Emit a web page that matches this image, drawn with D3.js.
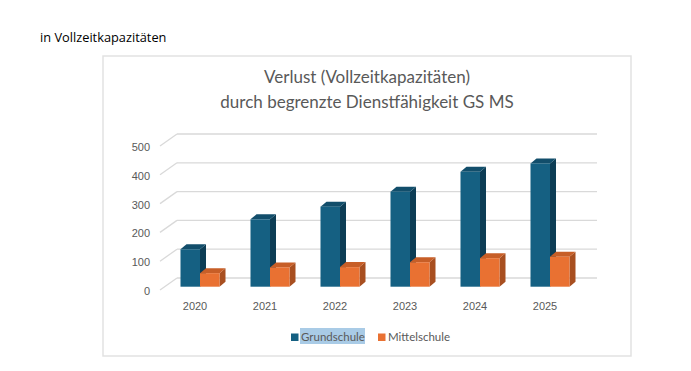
<!DOCTYPE html>
<html><head><meta charset="utf-8">
<script src="https://cdn.jsdelivr.net/npm/d3@7"></script>
<style>
html,body{margin:0;padding:0;background:#fff;}
svg{display:block;}
</style></head>
<body>
<svg id="c" width="691" height="371"></svg>
<script>
const years = ["2020","2021","2022","2023","2024","2025"];
const seriesNames = ["Grundschule","Mittelschule"];
const grundschule = [130, 234, 278, 330, 399, 428];
const mittelschule = [47, 67, 68, 85, 99, 104];
const yTicks = [0,100,200,300,400,500];
const titleLines = ["Verlust (Vollzeitkapazitäten)","durch begrenzte Dienstfähigkeit GS MS"];
const headerText = "in Vollzeitkapazitäten";

const colors = {
  "Grundschule": {front:"#156082", side:"#0d3d55", top:"#124e6b"},
  "Mittelschule": {front:"#e97132", side:"#a84f20", top:"#c75e27"}
};

const svg = d3.select("#c");

// header
svg.append("text").attr("x",40).attr("y",42).text(headerText)
  .attr("font-family","'Open Sans', Lato, sans-serif").attr("font-size",12.8)
  .attr("font-weight",500).attr("fill","#000");

// frame
svg.append("rect").attr("x",103).attr("y",56).attr("width",528).attr("height",300)
  .attr("fill","#fff").attr("stroke","#e2e2e2").attr("stroke-width",1.5);

// title
const title = svg.append("text").attr("text-anchor","middle")
  .attr("font-family","Lato, 'Open Sans', sans-serif").attr("font-size",17).attr("fill","#595959");
titleLines.forEach((t,i)=>title.append("tspan").attr("x",367).attr("y",83+i*25).text(t));

// geometry
const wallDx = 17, wallDy = -12;       // depth of floor/wall
const barOffX = 5, barOffY = -3.3;      // bar plane relative to front plane
const barDx = 6, barDy = -5;            // bar thickness
const x = d3.scaleBand().domain(years).range([160,580]);
const y = d3.scaleLinear().domain([0,500]).range([290,146]);
const xs = d3.scaleBand().domain(seriesNames).range([-19.5,19.5]);

// back wall gridlines + diagonal side lines
const grid = svg.append("g").attr("stroke","#d9d9d9").attr("stroke-width",1.3).attr("fill","none");
yTicks.forEach(v=>{
  grid.append("line").attr("x1",160+wallDx).attr("x2",580+wallDx)
    .attr("y1",y(v)+wallDy).attr("y2",y(v)+wallDy);
  grid.append("line").attr("x1",160).attr("x2",160+wallDx)
    .attr("y1",y(v)).attr("y2",y(v)+wallDy);
});

// y axis labels
const yAxis = d3.axisLeft(y).tickValues(yTicks).tickSize(0).tickPadding(0);
const ya = svg.append("g").attr("transform","translate(150,1)").call(yAxis);
ya.select(".domain").remove();
ya.selectAll("text").attr("font-family","'Liberation Sans', Arial, sans-serif")
  .attr("font-size",11).attr("fill","#595959");

// x axis labels
const xAxis = d3.axisBottom(x).tickSize(0).tickPadding(0);
const xa = svg.append("g").attr("transform","translate(0,302)").call(xAxis);
xa.select(".domain").remove();
xa.selectAll("text").attr("font-family","'Liberation Sans', Arial, sans-serif")
  .attr("font-size",11).attr("fill","#595959");

// bars
const data = [];
years.forEach((yr,i)=>{
  data.push({year:yr, s:"Grundschule", v:grundschule[i]});
  data.push({year:yr, s:"Mittelschule", v:mittelschule[i]});
});
const bars = svg.append("g");
data.forEach(d=>{
  const cx = x(d.year) + x.bandwidth()/2 + barOffX;
  const x0 = cx + xs(d.s), x1 = x0 + xs.bandwidth();
  const yb = y(0) + barOffY, yt = y(d.v) + barOffY;
  const c = colors[d.s];
  const g = bars.append("g");
  g.append("path").attr("d",`M${x1},${yt}L${x1+barDx},${yt+barDy}L${x1+barDx},${yb+barDy}L${x1},${yb}Z`).attr("fill",c.side);
  g.append("path").attr("d",`M${x0},${yt}L${x0+barDx},${yt+barDy}L${x1+barDx},${yt+barDy}L${x1},${yt}Z`).attr("fill",c.top);
  g.append("rect").attr("x",x0).attr("y",yt).attr("width",x1-x0).attr("height",yb-yt).attr("fill",c.front);
});

// legend
const leg = svg.append("g").attr("font-family","Lato, 'Open Sans', sans-serif").attr("font-size",11.5).attr("fill","#595959");
leg.append("rect").attr("x",300).attr("y",328).attr("width",65).attr("height",16).attr("fill","#a9cbe6");
const legX = [291, 378];
seriesNames.forEach((s,i)=>{
  leg.append("rect").attr("x",legX[i]).attr("y",333.5).attr("width",7.5).attr("height",7.5).attr("fill",colors[s].front);
  leg.append("text").attr("x",legX[i]+10).attr("y",341).text(s);
});
</script>
</body></html>
